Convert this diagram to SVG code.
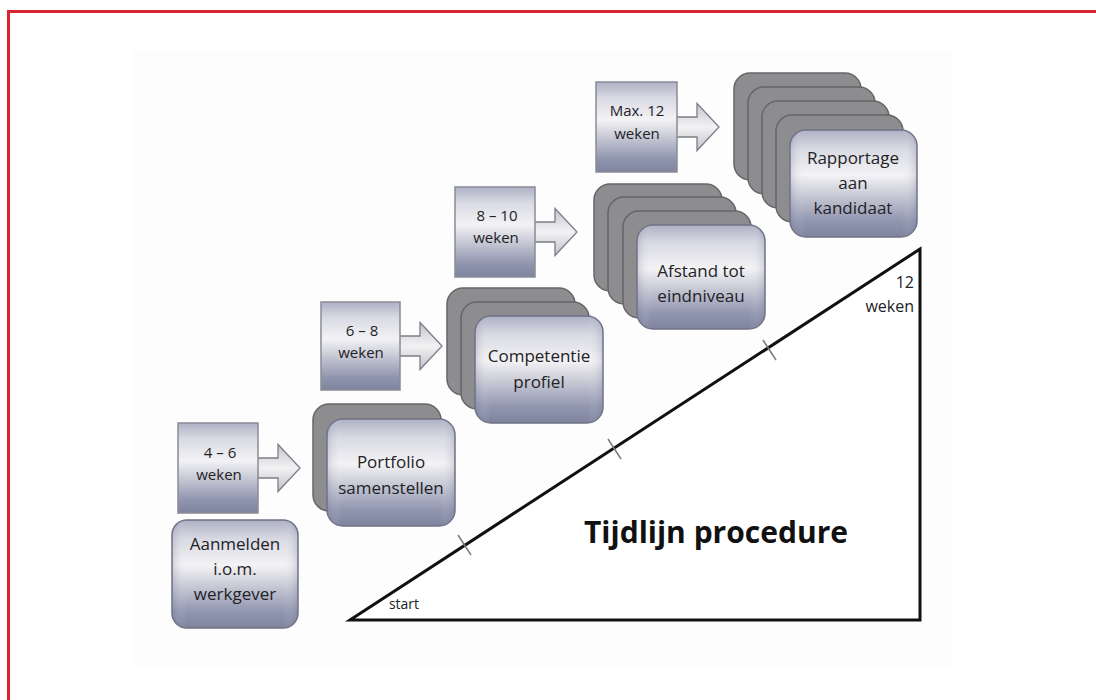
<svg xmlns="http://www.w3.org/2000/svg" width="1096" height="700" viewBox="0 0 1096 700">
  <defs>
    <linearGradient id="gBox" x1="0" y1="0" x2="0" y2="1">
      <stop offset="0" stop-color="#aeb1c5"/>
      <stop offset="0.18" stop-color="#d9dae3"/>
      <stop offset="0.42" stop-color="#f3f3f5"/>
      <stop offset="0.58" stop-color="#cfd0da"/>
      <stop offset="0.85" stop-color="#9196b0"/>
      <stop offset="1" stop-color="#7e839e"/>
    </linearGradient>
    <linearGradient id="gSide" x1="0" y1="0" x2="1" y2="0">
      <stop offset="0" stop-color="#6d7190" stop-opacity="0.25"/>
      <stop offset="0.12" stop-color="#ffffff" stop-opacity="0"/>
      <stop offset="0.88" stop-color="#ffffff" stop-opacity="0"/>
      <stop offset="1" stop-color="#6d7190" stop-opacity="0.25"/>
    </linearGradient>
    <linearGradient id="gArrow" x1="0" y1="0" x2="0" y2="1">
      <stop offset="0" stop-color="#c4c6cf"/>
      <stop offset="0.5" stop-color="#f2f2f3"/>
      <stop offset="1" stop-color="#c0c2cb"/>
    </linearGradient>
    <style>
      .back{fill:#8d8d8f;stroke:#656568;stroke-width:1.5}
      .front{fill:url(#gBox);stroke:#6f7186;stroke-width:1.5}
      .shade{fill:url(#gSide);stroke:none}
      .wk{fill:url(#gBox);stroke:#8a8b95;stroke-width:1.5}
      .arr{fill:url(#gArrow);stroke:#7c7d86;stroke-width:1.3;stroke-linejoin:miter}
      .t{font-family:"Open Sans","Liberation Sans",sans-serif;fill:#222226;text-anchor:middle}
      .big{font-size:17px}
      .sm{font-size:15px}
      .tick{stroke:#7a7a7a;stroke-width:1.5}
    </style>
  </defs>

  <rect x="0" y="0" width="1096" height="700" fill="#ffffff"/>
  <rect x="133" y="50" width="820" height="618" fill="#fdfdfd"/>
  <rect x="8.5" y="11.5" width="1100" height="700" fill="none" stroke="#d9252f" stroke-width="3"/>

  <!-- timeline triangle -->
  <g id="timeline">
    <path d="M350,620 L920,249 L920,620 Z" fill="#ffffff" stroke="#111111" stroke-width="3" stroke-linejoin="miter"/>
    <line class="tick" x1="458" y1="535" x2="471" y2="555"/>
    <line class="tick" x1="608" y1="439" x2="621" y2="459"/>
    <line class="tick" x1="763" y1="340" x2="776" y2="360"/>
    <text class="t" x="404" y="609" style="font-size:14px">start</text>
    <text class="t" x="914" y="288" style="font-size:16px;text-anchor:end">12</text>
    <text class="t" x="914" y="312" style="font-size:16px;text-anchor:end">weken</text>
    <text class="t" x="716" y="543" style="font-size:30px;font-weight:bold;fill:#111">Tijdlijn procedure</text>
  </g>

  <!-- block arrows -->
  <g id="connectors">
    <path class="arr" d="M257,458 H278 V444.5 L300,468 L278,491.5 V478 H257 Z"/>
    <path class="arr" d="M399,336 H420 V322.5 L442,346 L420,369.5 V356 H399 Z"/>
    <path class="arr" d="M534,222 H555 V208.5 L577,232 L555,255.5 V242 H534 Z"/>
    <path class="arr" d="M676,117 H697 V103.5 L719,127 L697,150.5 V137 H676 Z"/>
  </g>

  <!-- duration boxes -->
  <g id="dur1">
    <rect class="wk" x="178" y="423" width="80" height="90"/>
    <text class="t sm" x="220" y="458">4 – 6</text>
    <text class="t sm" x="219" y="480">weken</text>
  </g>
  <g id="dur2">
    <rect class="wk" x="321" y="302" width="79" height="88"/>
    <text class="t sm" x="362" y="336">6 – 8</text>
    <text class="t sm" x="361" y="358">weken</text>
  </g>
  <g id="dur3">
    <rect class="wk" x="455" y="187" width="80" height="90"/>
    <text class="t sm" x="497" y="221">8 – 10</text>
    <text class="t sm" x="496" y="243">weken</text>
  </g>
  <g id="dur4">
    <rect class="wk" x="596" y="82" width="81" height="90"/>
    <text class="t sm" x="637" y="116">Max. 12</text>
    <text class="t sm" x="637" y="139">weken</text>
  </g>

  <!-- step nodes -->
  <g id="aanmelden">
    <rect class="front" x="172" y="520" width="126" height="108" rx="15"/>
    <rect class="shade" x="172" y="520" width="126" height="108" rx="15"/>
    <text class="t big" x="235" y="550">Aanmelden</text>
    <text class="t big" x="235" y="575">i.o.m.</text>
    <text class="t big" x="235" y="600">werkgever</text>
  </g>

  <g id="portfolio">
    <rect class="back" x="313" y="404" width="128" height="107" rx="16"/>
    <rect class="front" x="327" y="419" width="128" height="107" rx="16"/>
    <rect class="shade" x="327" y="419" width="128" height="107" rx="16"/>
    <text class="t big" x="391" y="468">Portfolio</text>
    <text class="t big" x="391" y="494">samenstellen</text>
  </g>

  <g id="competentie">
    <rect class="back" x="447" y="288" width="128" height="107" rx="16"/>
    <rect class="back" x="461" y="302" width="128" height="107" rx="16"/>
    <rect class="front" x="475" y="316" width="128" height="107" rx="16"/>
    <rect class="shade" x="475" y="316" width="128" height="107" rx="16"/>
    <text class="t big" x="539" y="362">Competentie</text>
    <text class="t big" x="539" y="388">profiel</text>
  </g>

  <g id="afstand">
    <rect class="back" x="594" y="184" width="128" height="107" rx="16"/>
    <rect class="back" x="608" y="197" width="128" height="107" rx="16"/>
    <rect class="back" x="623" y="211" width="128" height="107" rx="16"/>
    <rect class="front" x="637" y="225" width="128" height="104" rx="16"/>
    <rect class="shade" x="637" y="225" width="128" height="104" rx="16"/>
    <text class="t big" x="701" y="277">Afstand tot</text>
    <text class="t big" x="701" y="302">eindniveau</text>
  </g>

  <g id="rapportage">
    <rect class="back" x="734" y="73" width="127" height="107" rx="16"/>
    <rect class="back" x="748" y="87" width="127" height="107" rx="16"/>
    <rect class="back" x="762" y="101" width="127" height="107" rx="16"/>
    <rect class="back" x="776" y="115" width="127" height="107" rx="16"/>
    <rect class="front" x="790" y="130" width="127" height="107" rx="16"/>
    <rect class="shade" x="790" y="130" width="127" height="107" rx="16"/>
    <text class="t big" x="853" y="164">Rapportage</text>
    <text class="t big" x="853" y="189">aan</text>
    <text class="t big" x="853" y="214">kandidaat</text>
  </g>
</svg>
